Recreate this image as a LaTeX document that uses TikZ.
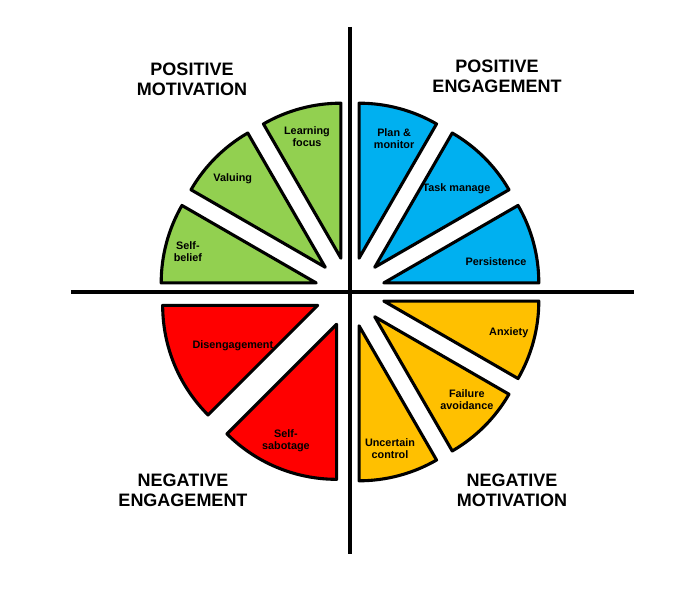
\documentclass[tikz,border=0pt]{standalone}
\usepackage{fontspec}
\setmainfont{Liberation Sans}
\usetikzlibrary{positioning}
\definecolor{motgreen}{HTML}{92D050}
\definecolor{engblue}{HTML}{00B0F0}
\definecolor{negred}{HTML}{FF0000}
\definecolor{anxgold}{HTML}{FFC000}

\begin{document}
\begin{tikzpicture}[
        x=0.025cm, y=0.025cm,
        segment/.style={
            draw=black,
            line width=2.2pt,
            line join=round,
            fill=#1
        },
        seglabel/.style={font=\fontsize{7.7}{8.6}\selectfont\bfseries, align=center, inner sep=0pt},
        quadtitle/.style={font=\fontsize{12.8}{14.4}\selectfont\bfseries, align=center, inner sep=0pt},
        axisline/.style={line width=2.8pt}
    ]

    \useasboundingbox (-350,-304) rectangle (342,292);

    % Ejes que separan los cuadrantes
    \coordinate (axtop) at (0,265);
    \coordinate (axbottom) at (0,-262);
    \coordinate (axleft) at (-279,0);
    \coordinate (axright) at (284,0);
    \draw[axisline] (axtop) -- (axbottom);
    \draw[axisline] (axleft) -- (axright);

    % Sectores de la rueda (separados del centro)
    \foreach \id/\a/\b/\col/\la/\lr/\txt in {
        learn/90/120/motgreen/105.5/161/{Learning\\focus},
        valuing/120/150/motgreen/136/163/{Valuing},
        belief/150/180/motgreen/166/167/{Self-\\belief},
        plan/60/90/engblue/74/160/{Plan \&\\monitor},
        task/30/60/engblue/44/148/{Task manage},
        persist/0/30/engblue/11.6/149/{Persistence},
        anxiety/-30/0/anxgold/-14.5/164/{Anxiety},
        failure/-60/-30/anxgold/-42.7/159/{Failure\\avoidance},
        uncertain/-90/-60/anxgold/-75.7/162/{Uncertain\\control},
        diseng/180/225/negred/204.8/129/{Disengagement},
        sabotage/225/270/negred/246.7/162/{Self-\\sabotage}}
    {
        \pgfmathsetmacro\bis{(\a+\b)/2}
        \filldraw[segment=\col] (\bis:35) -- ++(\a:155)
            arc[start angle=\a, end angle=\b, radius=155] -- cycle;
        \node[seglabel] (\id) at (\la:\lr) {\txt};
    }

    % Títulos de cada cuadrante
    \node[quadtitle] (posmot) at (-158,212.5) {POSITIVE\\MOTIVATION};
    \node[quadtitle] (poseng) at (147,215.5) {POSITIVE\\ENGAGEMENT};
    \node[quadtitle] (negeng) at (-167,-198) {NEGATIVE\\ENGAGEMENT};
    \node[quadtitle] (negmot) at (162,-198.5) {NEGATIVE\\MOTIVATION};

\end{tikzpicture}
\end{document}
